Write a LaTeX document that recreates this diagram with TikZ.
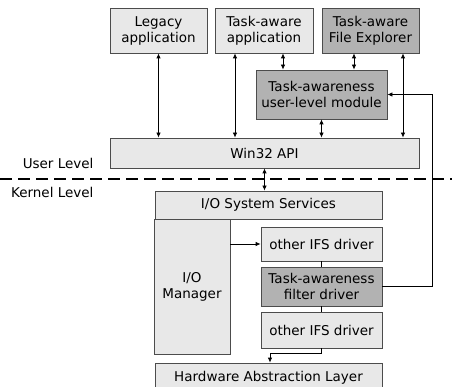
\documentclass[tikz,border=0pt]{standalone}
\usepackage{fontspec}
\setmainfont{DejaVu Sans}
\usetikzlibrary{arrows.meta}
\definecolor{lightbox}{gray}{0.91}
\definecolor{darkbox}{gray}{0.70}
\definecolor{boxline}{gray}{0.3}
\begin{document}
\begin{tikzpicture}[x=1pt,y=-1pt,>={Latex[length=5pt,width=4.5pt]},
  every node/.style={black,font=\fontsize{13.5}{16}\selectfont},
  layer/.style={draw=boxline,line width=0.8pt,fill=lightbox,inner sep=0pt,align=center},
  taskbox/.style={layer,fill=darkbox},
  wire/.style={line width=0.8pt},
  link/.style={wire,<->}]
  \clip (0,0) rectangle (452,387);
  % user level
  \node [layer,minimum width=97pt,minimum height=45pt] (legacy) at (158.5,30.5) {Legacy\\application};
  \node [layer,minimum width=98pt,minimum height=45pt] (taskapp) at (264,30.5) {Task-aware\\application};
  \node [taskbox,minimum width=97pt,minimum height=45pt] (explorer) at (370.5,30.5) {Task-aware\\File Explorer};
  \node [taskbox,minimum width=131pt,minimum height=49pt] (module) at (321.5,94.5) {Task-awareness\\user-level module};
  \node [layer,minimum width=309pt,minimum height=30pt] (win32) at (264.5,153) {Win32 API};
  \node [left] (user) at (97,163) {User Level};
  \node [left] (kernel) at (97,192) {Kernel Level};
  \draw [line width=2.5pt,dash pattern=on 12pt off 6pt] (0,179) -- (452,179);
  % kernel level
  \node [layer,minimum width=227pt,minimum height=28pt] (iosys) at (268.5,205) {I/O System Services};
  \node [layer,minimum width=76pt,minimum height=135pt] (iomgr) at (192,286.5) {I/O\\Manager};
  \node [layer,minimum width=121pt,minimum height=34pt] (ifsa) at (321.5,244) {other IFS driver};
  \node [taskbox,minimum width=121pt,minimum height=39pt] (filter) at (321.5,286.5) {Task-awareness\\filter driver};
  \node [layer,minimum width=121pt,minimum height=36pt] (ifsb) at (321.5,330) {other IFS driver};
  \node [layer,minimum width=227pt,minimum height=30pt] (hal) at (268.5,378) {Hardware Abstraction Layer};
  % connectors
  \draw [link] (legacy.south) -- (legacy.south |- win32.north);
  \draw [link] ([xshift=-29pt]taskapp.south) -- ([xshift=-29pt]taskapp.south |- win32.north);
  \draw [link] ([xshift=19pt]taskapp.south) -- ([xshift=19pt]taskapp.south |- module.north);
  \draw [link] ([xshift=-16.5pt]explorer.south) -- ([xshift=-16.5pt]explorer.south |- module.north);
  \draw [link] ([xshift=32.5pt]explorer.south) -- ([xshift=32.5pt]explorer.south |- win32.north);
  \draw [link] (module.south) -- (module.south |- win32.north);
  \draw [link] (win32.south) -- (win32.south |- iosys.north);
  \draw [wire,->] (iomgr.east |- ifsa.west) -- (ifsa.west);
  \draw [wire] (ifsa) -- (filter) (filter) -- (ifsb);
  \draw [wire,->] (filter.east) -- ++(50pt,0) |- (module.east);
  \draw [wire,->] (ifsb.south) -- ++(0,5) -| ([xshift=1.5pt]hal.north);
\end{tikzpicture}
\end{document}
